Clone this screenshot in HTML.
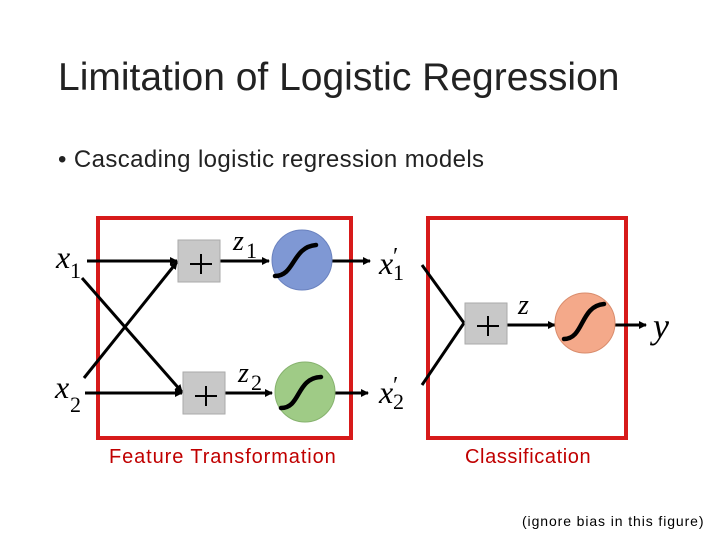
<!DOCTYPE html>
<html><head><style>
body{margin:0;width:720px;height:540px;background:#fff;overflow:hidden;font-family:"Liberation Sans",sans-serif}
.t{position:absolute;white-space:nowrap}
</style></head><body>
<div class="t" style="left:58px;top:56px;font-size:39px;color:#222;font-weight:300">Limitation of Logistic Regression</div>
<div class="t" style="left:58px;top:146px;font-size:24px;color:#222;letter-spacing:0.4px">• Cascading logistic regression models</div>
<svg width="720" height="540" style="position:absolute;left:0;top:0" font-family="Liberation Serif">
<defs><marker id="a" markerWidth="8" markerHeight="8" refX="7" refY="4" orient="auto" markerUnits="userSpaceOnUse"><path d="M0,0 L8,4 L0,8 z" fill="#000"/></marker></defs>
<rect x="98" y="218" width="253" height="220" fill="none" stroke="#d71a1a" stroke-width="4"/>
<rect x="428" y="218" width="198" height="220" fill="none" stroke="#d71a1a" stroke-width="4"/>
<g stroke="#000" stroke-width="3" fill="none">
<line x1="87" y1="261" x2="177" y2="261" marker-end="url(#a)"/>
<line x1="85" y1="393" x2="182" y2="393" marker-end="url(#a)"/>
<line x1="82" y1="278" x2="182" y2="392" marker-end="url(#a)"/>
<line x1="84" y1="378" x2="177" y2="262" marker-end="url(#a)"/>
<line x1="220" y1="261" x2="269" y2="261" marker-end="url(#a)"/>
<line x1="225" y1="393" x2="272" y2="393" marker-end="url(#a)"/>
<line x1="331" y1="261" x2="370" y2="261" marker-end="url(#a)"/>
<line x1="334" y1="393" x2="368" y2="393" marker-end="url(#a)"/>
<line x1="422" y1="265" x2="464" y2="323"/>
<line x1="422" y1="385" x2="464" y2="323"/>
<line x1="507" y1="325" x2="555" y2="325" marker-end="url(#a)"/>
<line x1="615" y1="325" x2="646" y2="325" marker-end="url(#a)"/>
</g>
<rect x="178" y="240" width="42" height="42" fill="#c8c8c8" stroke="#aaa"/>
<rect x="183" y="372" width="42" height="42" fill="#c8c8c8" stroke="#aaa"/>
<rect x="465" y="303" width="42" height="41" fill="#c8c8c8" stroke="#aaa"/>
<g stroke="#000" stroke-width="2"><path d="M190 264h22M201 254v20M195 396h22M206 386v20M477 326h22M488 316v20"/></g>
<circle cx="302" cy="260" r="30" fill="#7f98d4" stroke="#6a82bf"/>
<circle cx="305" cy="392" r="30" fill="#9fcb86" stroke="#86b26e"/>
<circle cx="585" cy="323" r="30" fill="#f4a98a" stroke="#d98c6c"/>
<g stroke="#000" stroke-width="4.5" fill="none" stroke-linecap="round">
<path d="M275 276 C295 276 292 247 316 245"/>
<path d="M281 408 C301 408 296 378 321 377"/>
<path d="M564 339 C584 339 580 306 604 304"/>
</g>
<g font-style="italic" font-size="32" fill="#000">
<text x="56" y="268">x</text><text x="70" y="278" font-style="normal" font-size="22">1</text>
<text x="55" y="398">x</text><text x="70" y="412" font-style="normal" font-size="22">2</text>
<text x="233" y="250" font-size="28">z</text><text x="246" y="258" font-style="normal" font-size="22">1</text>
<text x="238" y="382" font-size="28">z</text><text x="251" y="390" font-style="normal" font-size="22">2</text>
<text x="379" y="274">x</text><text x="393" y="264" font-style="normal" font-size="24">′</text><text x="393" y="280" font-style="normal" font-size="22">1</text>
<text x="379" y="403">x</text><text x="393" y="393" font-style="normal" font-size="24">′</text><text x="393" y="409" font-style="normal" font-size="22">2</text>
<text x="518" y="314" font-size="28">z</text>
<text x="653" y="338" font-size="36">y</text>
</g>
</svg>
<div class="t" style="left:109px;top:446px;font-size:20px;color:#c00000;letter-spacing:0.9px">Feature Transformation</div>
<div class="t" style="left:465px;top:446px;font-size:20px;color:#c00000;letter-spacing:0.6px">Classification</div>
<div class="t" style="left:522px;top:513px;font-size:14px;color:#000;letter-spacing:0.9px">(ignore bias in this figure)</div>
</body></html>
